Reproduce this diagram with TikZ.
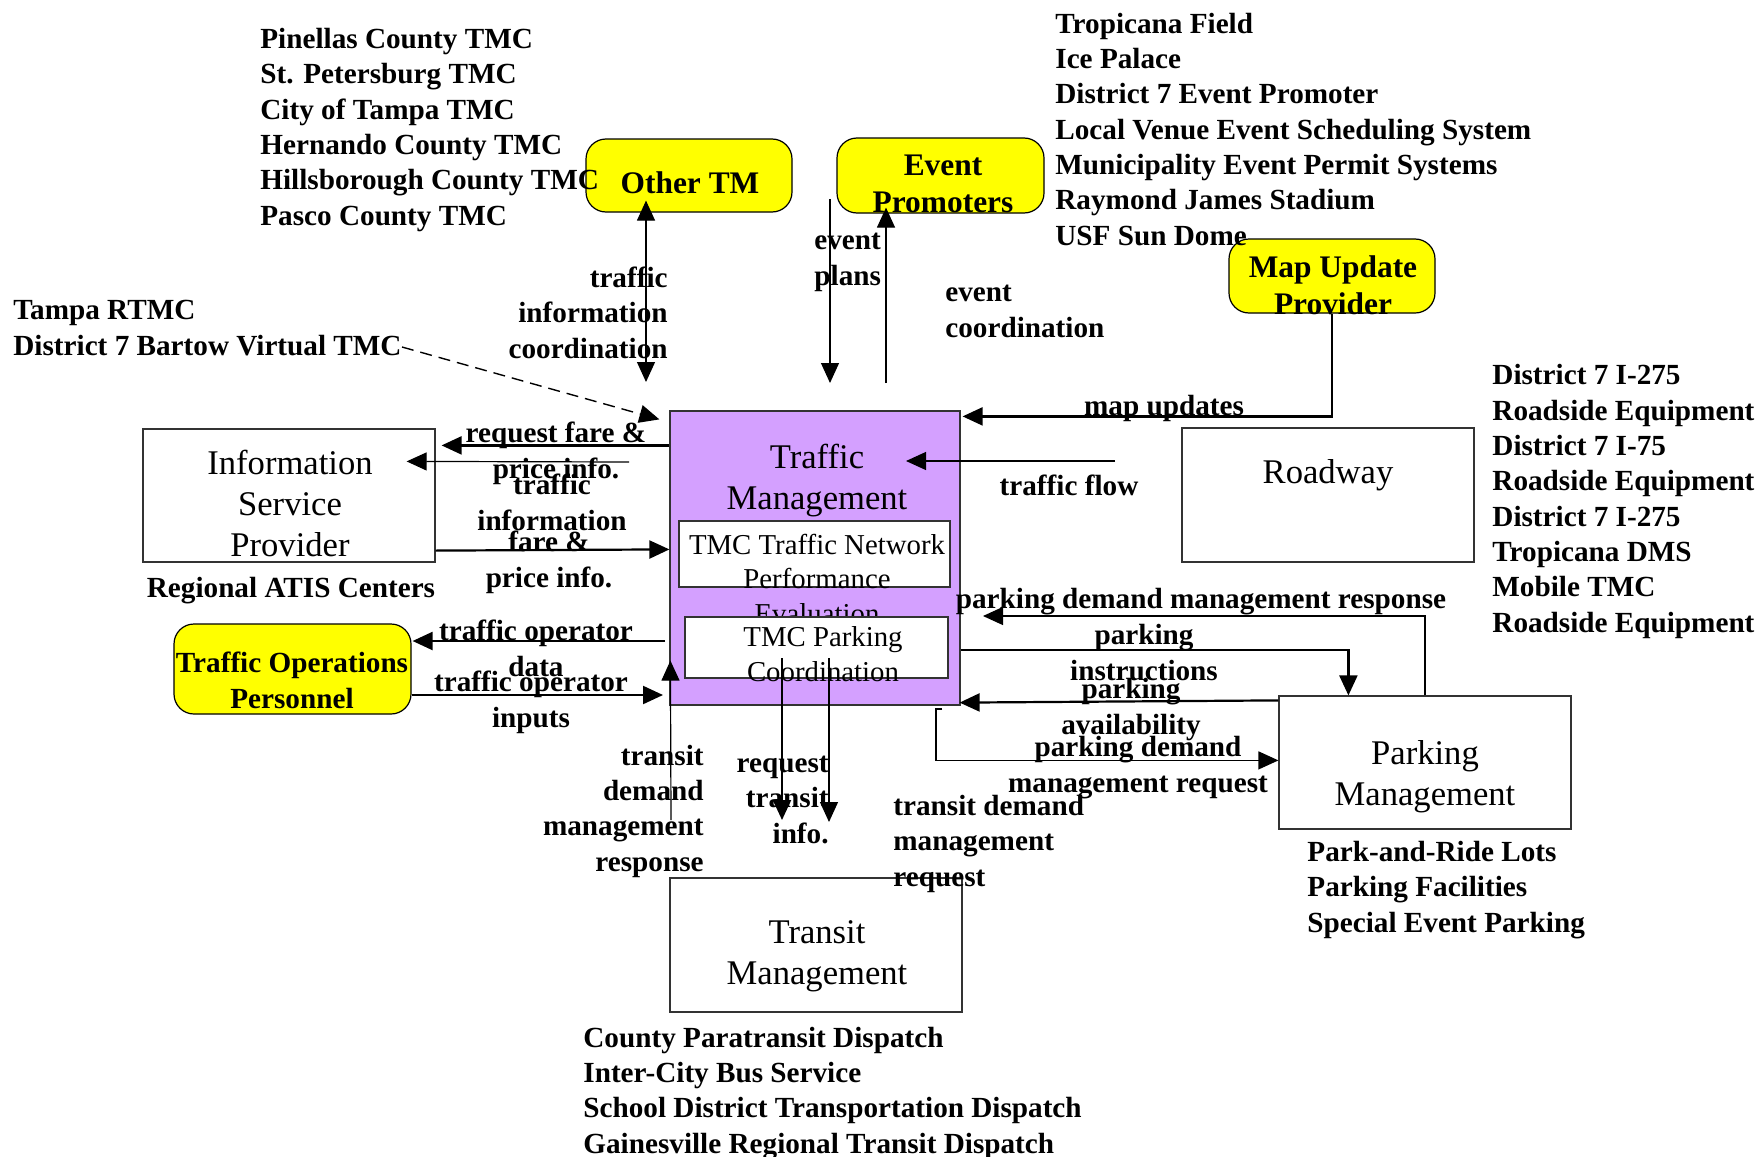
\documentclass[tikz,border=0pt]{standalone}
\usepackage{fontspec}
\setmainfont{Liberation Serif}
\usetikzlibrary{arrows.meta,calc}
\definecolor{tmpurple}{HTML}{D4A0FF}
\definecolor{tmyellow}{HTML}{FFFF00}
\definecolor{tmline}{HTML}{333333}

\begin{document}
\begin{tikzpicture}[x=0.5pt, y=-0.5pt,
  box/.style={draw=tmline, line width=0.6pt, fill=white, minimum width=146pt, minimum height=66.5pt, inner sep=0pt},
  ybox/.style={draw=black, line width=0.6pt, fill=tmyellow, rounded corners=10pt, inner sep=0pt},
  btxt/.style={font=\fontsize{17.3}{20.5}\selectfont, align=center, anchor=base, inner sep=0pt},
  stxt/.style={font=\fontsize{14.4}{17.3}\selectfont, align=center, anchor=base, inner sep=0pt},
  ytxt/.style={font=\fontsize{15.7}{18.5}\selectfont\bfseries, align=center, anchor=base, inner sep=0pt},
  lbl/.style={font=\fontsize{14.6}{17.65}\selectfont\bfseries, align=center, anchor=base, inner sep=0pt},
  lst/.style={lbl, align=left, anchor=base west},
  rlbl/.style={lbl, align=right, anchor=base east},
  arrow/.style={-{Triangle[length=10pt, width=9pt]}, line width=0.6pt},
  harrow/.style={arrow, line width=1.1pt},
  darrow/.style={{Triangle[length=10pt, width=9pt]}-{Triangle[length=10pt, width=9pt]}, line width=0.6pt},
  dasharrow/.style={arrow, line width=0.7pt, dash pattern=on 6pt off 3.5pt},
]
  \useasboundingbox (0,0) rectangle (1760,1156);

  % Core boxes (text nodes sit on the baseline of their last line)
  \node[box, fill=tmpurple, minimum width=145pt, minimum height=147pt] (tm) at (815,558) {};
  \node[box, minimum width=135.5pt, minimum height=33pt] (perf) at (814.5,554) {};
  \node[stxt] (perftxt) at (817,623.5) {TMC Traffic Network\\Performance\\Evaluation};
  \node[box, minimum width=131.5pt, minimum height=30.5pt] (pcoord) at (816.5,647.5) {};
  \node[stxt] (pcoordtxt) at (823,681) {TMC Parking\\Coordination};
  \node[btxt] (tmtxt) at (817,509.5) {Traffic\\Management};

  \node[box] (isp) at (289,495.5) {};
  \node[btxt] (isptxt) at (290,556.5) {Information\\Service\\Provider};
  \node[box, minimum height=67pt] (road) at (1328,495) {};
  \node[btxt] (roadtxt) at (1328,483.5) {Roadway};
  \node[box] (park) at (1425,762.5) {};
  \node[btxt] (parktxt) at (1425,805) {Parking\\Management};
  \node[box, minimum height=67pt] (transit) at (816,945) {};
  \node[btxt] (transtxt) at (817,984.5) {Transit\\Management};

  % Yellow terminators
  \node[ybox, minimum width=103pt, minimum height=36.5pt] (otm) at (689,175.5) {};
  \node[ytxt] (otmtxt) at (690,193) {Other TM};
  \node[ybox, minimum width=103.5pt, minimum height=37.5pt] (evp) at (940.5,175.5) {};
  \node[ytxt] (evptxt) at (943,212) {Event\\Promoters};
  \node[ybox, minimum width=103pt, minimum height=37pt] (mup) at (1332,276) {};
  \node[ytxt] (muptxt) at (1333,314) {Map Update\\Provider};
  \node[ybox, minimum width=118.5pt, minimum height=45pt] (top) at (292.5,669) {};
  \node[lbl] (toptxt) at (292,708) {Traffic Operations\\Personnel};

  % Element lists
  \node[lst] (otmlist) at (260,225) {Pinellas County TMC\\St. Petersburg TMC\\City of Tampa TMC\\Hernando County TMC\\Hillsborough County TMC\\Pasco County TMC};
  \node[lst] (evlist) at (1055,245) {Tropicana Field\\Ice Palace\\District 7 Event Promoter\\Local Venue Event Scheduling System\\Municipality Event Permit Systems\\Raymond James Stadium\\USF Sun Dome};
  \node[lst] (tampa) at (13,355) {Tampa RTMC\\District 7 Bartow Virtual TMC};
  \node[lst] (roadlist) at (1492,632) {District 7 I-275\\Roadside Equipment\\District 7 I-75\\Roadside Equipment\\District 7 I-275\\Tropicana DMS\\Mobile TMC\\Roadside Equipment};
  \node[lst] (parklist) at (1307,932) {Park-and-Ride Lots\\Parking Facilities\\Special Event Parking};
  \node[lst] (translist) at (583,1153) {County Paratransit Dispatch\\Inter-City Bus Service\\School District Transportation Dispatch\\Gainesville Regional Transit Dispatch};
  \node[lbl] (atis) at (291,597) {Regional ATIS Centers};

  % Free ends
  \coordinate (bartow) at (402,347);
  \coordinate (ticoord) at (646,382);
  \coordinate (planA) at (830,199);
  \coordinate (planB) at (830,383);
  \coordinate (ecoord) at (886,383);
  \coordinate (tinfo) at (629,462);
  \coordinate (todata) at (665,641);
  \coordinate (toinput) at (663,695);
  \coordinate (flowA) at (1115,461);
  \coordinate (flowB) at (906,461);
  \coordinate (presp) at (983,616);
  \coordinate (preq) at (942,709);
  \coordinate (tresp) at (671,820);
  \coordinate (rtiA) at (782,658);
  \coordinate (rtiB) at (782,820);
  \coordinate (treqA) at (829,658);
  \coordinate (treqB) at (829,822);

  % Arrows
  \draw[dasharrow] (bartow) -- ($(tm.north west)+(-10,9)$);
  \draw[darrow] ($(otm.south)+(-43,-12)$) -- (ticoord);
  \draw[arrow] (planA) -- (planB);
  \draw[arrow] (ecoord) -- ($(evp.south)+(-54.5,-6)$);
  \draw[harrow] (mup.south) |- ($(tm.north east)+(2,6)$);
  \draw[harrow] ($(tm.north west)+(0,35)$) -- ($(isp.north east)+(6,17)$);
  \draw[arrow] (tinfo) -- ($(isp.north east)+(-29,33)$);
  \draw[harrow] ($(isp.south east)+(0,-12)$) -- ($(tm.north west)+(0,139)$);
  \draw[harrow] (todata) -- ($(top.east)+(1,-28)$);
  \draw[harrow] ($(top.east)+(0,26)$) -- (toinput);
  \draw[arrow] (flowA) -- (flowB);
  \draw[arrow] (park.north) |- (presp);
  \draw[harrow] ($(tm.south east)+(0,-56)$) -| ($(park.north west)+(70,0)$);
  \draw[harrow] ($(park.north west)+(0,5)$) -- ($(tm.south east)+(-1,-3)$);
  \draw[arrow] (preq) -- ++(-6,0) |- ($(park.north west)+(0,65)$);
  \draw[arrow] (tresp) -- ($(tm.south west)+(1,-45)$);
  \draw[harrow] (rtiA) -- (rtiB);
  \draw[arrow] (treqA) -- (treqB);

  % Flow labels
  \node[lbl] (fareL) at (556,478) {request fare \&\\price info.};
  \node[lbl] (tinfoL) at (552,530) {traffic\\information};
  \node[lbl] (fareR) at (549,587) {fare \&\\price info.};
  \node[lbl] (todataL) at (536,676) {traffic operator\\data};
  \node[lbl] (toinputL) at (531,727) {traffic operator\\inputs};
  \node[rlbl] (ticoordL) at (668,358) {traffic\\information\\coordination};
  \node[lst] (planL) at (814,285) {event\\plans};
  \node[lst] (ecoordL) at (945,337) {event\\coordination};
  \node[lbl] (mapL) at (1164,415) {map updates};
  \node[lbl] (flowL) at (1069,495) {traffic flow};
  \node[lbl] (prespL) at (1201,608) {parking demand management response};
  \node[lbl] (pinstrL) at (1144,680) {parking\\instructions};
  \node[lbl] (pavailL) at (1131,734) {parking\\availability};
  \node[lbl] (preqL) at (1138,792) {parking demand\\management request};
  \node[rlbl] (trespL) at (704,871) {transit\\demand\\management\\response};
  \node[rlbl] (rtiL) at (829,843) {request\\transit\\info.};
  \node[lst] (treqL) at (893,886) {transit demand\\management\\request};
\end{tikzpicture}
\end{document}
